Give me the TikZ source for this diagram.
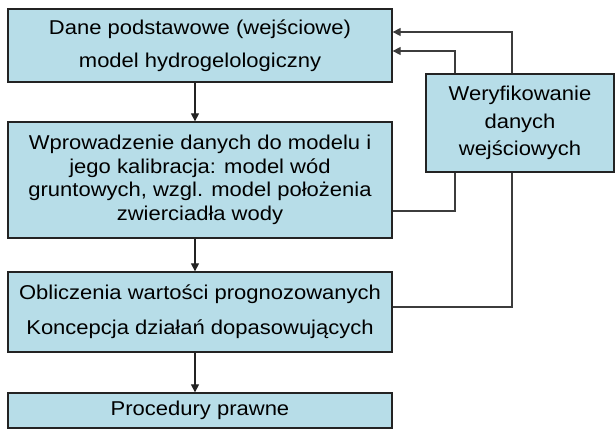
\documentclass[tikz,border=0pt]{standalone}
\usepackage{fontspec}
\setmainfont[FakeStretch=1.1]{Liberation Sans}
\usetikzlibrary{arrows.meta,positioning,calc}
\definecolor{boxfill}{RGB}{183,221,232}
\definecolor{boxline}{RGB}{35,35,35}
\definecolor{fbgray}{RGB}{60,60,60}
\tikzset{
  blk/.style={draw=boxline, fill=boxfill, line width=1.3pt, inner sep=0pt,
              minimum width=384pt, align=center,
              font=\fontsize{20}{23.5}\selectfont},
  flowarr/.style={-{Triangle[length=8pt,width=8pt]}, boxline, line width=1.2pt},
  fbarr/.style={-{Triangle[length=8pt,width=8pt]}, fbgray, line width=1.3pt},
  fbline/.style={fbgray, line width=1.3pt},
}

\begin{document}
\begin{tikzpicture}[x=1pt, y=-1pt]
    \useasboundingbox (0,0) rectangle (615,429);
    % main chain
    \node[blk, minimum height=73pt] (dane) at (200,45.5)
      {Dane podstawowe (wejściowe)\\[9.5pt]model hydrogelologiczny};
    \node[blk, minimum height=116pt] (wprow) at (200,180)
      {Wprowadzenie danych do modelu i\\jego kalibracja: model wód\\gruntowych, wzgl. model położenia\\zwierciadła wody};
    \node[blk, minimum height=80pt] (oblicz) at (200,312)
      {Obliczenia wartości prognozowanych\\[11.5pt]Koncepcja działań dopasowujących};
    \node[blk, minimum height=35pt] (proc) at (200,410.5) {Procedury prawne};
    % side box
    \node[blk, minimum width=188pt, minimum height=98pt] (weryf) at (520,123)
      {Weryfikowanie\\[4pt]danych\\[4pt]wejściowych};
    \draw[flowarr] ([xshift=-5pt]dane.south) -- ([xshift=-5pt]wprow.north);
    \draw[flowarr] ([xshift=-5pt]wprow.south) -- ([xshift=-5pt]oblicz.north);
    \draw[flowarr] ([xshift=-5pt]oblicz.south) -- ([xshift=-5pt]proc.north);
    % feedback
    \draw[fbarr] ([xshift=-8pt]weryf.north) |- ([yshift=13.5pt]dane.east);
    \draw[fbarr] ([xshift=-65pt]weryf.north) |- ([yshift=-5.5pt]dane.east);
    \draw[fbline] ([xshift=-65pt]weryf.south) |- ([yshift=-31pt]wprow.east);
    \draw[fbline] ([xshift=-8pt]weryf.south) |- ([yshift=5pt]oblicz.east);
  \end{tikzpicture}
\end{document}
